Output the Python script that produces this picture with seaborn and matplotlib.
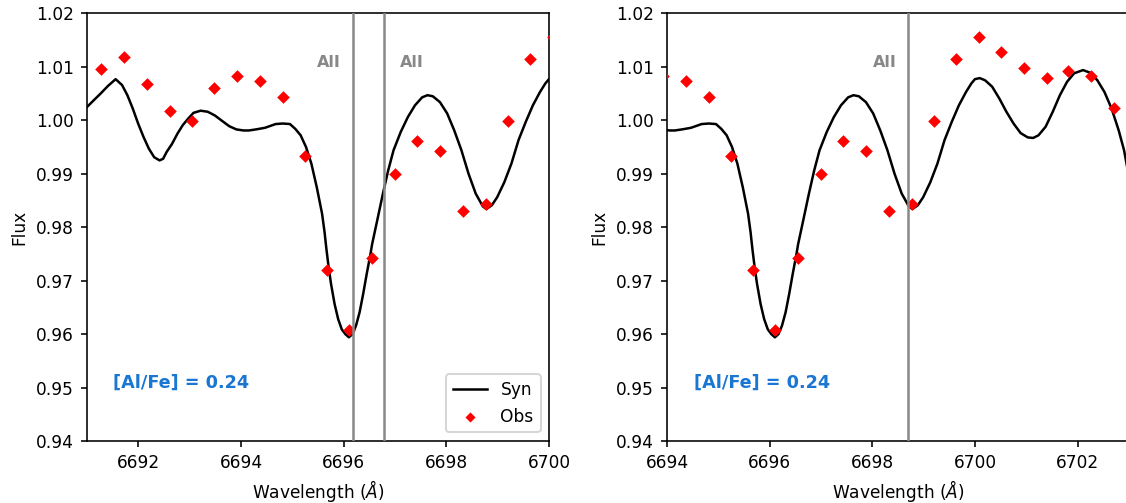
import matplotlib
matplotlib.use("Agg")
import matplotlib.pyplot as plt
import seaborn as sns
import pandas as pd

# Synthetic spectrum
syn_wave = [6691.000, 6691.125, 6691.264, 6691.404, 6691.557, 6691.682, 6691.786, 6691.891, 6691.995, 6692.100,
            6692.204, 6692.308, 6692.413, 6692.482, 6692.552, 6692.656, 6692.761, 6692.865, 6692.969, 6693.074,
            6693.213, 6693.352, 6693.491, 6693.630, 6693.770, 6693.909, 6694.048, 6694.152, 6694.292, 6694.466,
            6694.674, 6694.813, 6694.953, 6695.057, 6695.161, 6695.266, 6695.370, 6695.475, 6695.579, 6695.628,
            6695.662, 6695.704, 6695.753, 6695.823, 6695.892, 6695.962, 6696.031, 6696.101, 6696.171, 6696.240,
            6696.310, 6696.379, 6696.449, 6696.518, 6696.553, 6696.658, 6696.762, 6696.866, 6696.971, 6697.110,
            6697.249, 6697.388, 6697.528, 6697.632, 6697.736, 6697.875, 6698.015, 6698.154, 6698.293, 6698.432,
            6698.571, 6698.710, 6698.780, 6698.885, 6698.989, 6699.128, 6699.267, 6699.406, 6699.546, 6699.685,
            6699.824, 6699.928, 6699.998, 6700.090, 6700.194, 6700.333, 6700.472, 6700.611, 6700.750, 6700.889,
            6701.028, 6701.132, 6701.236, 6701.375, 6701.514, 6701.653, 6701.792, 6701.931, 6702.104, 6702.243,
            6702.382, 6702.521, 6702.660, 6702.799, 6702.903, 6702.993]
syn_flux = [1.0025, 1.0037, 1.0050, 1.0064, 1.0077, 1.0066, 1.0047, 1.0022, 0.9994, 0.9969,
            0.9947, 0.9931, 0.9925, 0.9928, 0.9941, 0.9956, 0.9975, 0.9991, 1.0003, 1.0014,
            1.0018, 1.0016, 1.0009, 0.9999, 0.9989, 0.9983, 0.9981, 0.9981, 0.9983, 0.9986,
            0.9993, 0.9994, 0.9993, 0.9984, 0.9972, 0.9950, 0.9919, 0.9875, 0.9825, 0.9790,
            0.9760, 0.9727, 0.9694, 0.9656, 0.9628, 0.9609, 0.9600, 0.9594, 0.9600, 0.9616,
            0.9641, 0.9675, 0.9713, 0.9748, 0.9768, 0.9815, 0.9862, 0.9906, 0.9944, 0.9978,
            1.0006, 1.0028, 1.0043, 1.0047, 1.0045, 1.0034, 1.0013, 0.9981, 0.9944, 0.9900,
            0.9863, 0.9839, 0.9834, 0.9841, 0.9856, 0.9884, 0.9919, 0.9963, 0.9997, 1.0028,
            1.0053, 1.0069, 1.0077, 1.0079, 1.0075, 1.0063, 1.0041, 1.0016, 0.9994, 0.9976,
            0.9968, 0.9967, 0.9972, 0.9988, 1.0016, 1.0047, 1.0072, 1.0088, 1.0094, 1.0089,
            1.0075, 1.0053, 1.0022, 0.9981, 0.9944, 0.9897]

# Observed spectrum
obs_wave = [6691.27, 6691.72, 6692.17, 6692.62, 6693.05, 6693.48, 6693.93, 6694.37, 6694.81, 6695.24,
            6695.68, 6696.11, 6696.56, 6697.00, 6697.43, 6697.88, 6698.32, 6698.77, 6699.20, 6699.62,
            6700.07, 6700.50, 6700.95, 6701.40, 6701.82, 6702.25, 6702.70]
obs_flux = [1.0096, 1.0118, 1.0068, 1.0018, 0.9999, 1.0061, 1.0083, 1.0074, 1.0044, 0.9933,
            0.9719, 0.9608, 0.9743, 0.9899, 0.9961, 0.9942, 0.9831, 0.9844, 0.9999, 1.0114,
            1.0156, 1.0127, 1.0098, 1.0080, 1.0092, 1.0083, 1.0023]

panel_xlim = [(6691, 6700), (6694, 6703)]
panel_xticks = [[6692, 6694, 6696, 6698, 6700], [6694, 6696, 6698, 6700, 6702]]
yticks = [0.94, 0.95, 0.96, 0.97, 0.98, 0.99, 1.00, 1.01, 1.02]
panel_lines = [[6696.18, 6696.78], [6698.69]]
panel_line_labels = [[6695.72, 6697.32], [6698.25]]
label_text = "AlI"
abund_text = "[Al/Fe] = 0.24"
abund_x = [6691.5, 6694.53]

syn_df = pd.DataFrame({"wave": syn_wave, "flux": syn_flux})
obs_df = pd.DataFrame({"wave": obs_wave, "flux": obs_flux})

FS = 8.5
fig = plt.figure(figsize=(1126 / 144, 503 / 144), dpi=144)
axes = [fig.add_axes([0.0773, 0.1233, 0.4103, 0.850]),
        fig.add_axes([0.5924, 0.1233, 0.4103, 0.850])]

for i, ax in enumerate(axes):
    sns.lineplot(data=syn_df, x="wave", y="flux", ax=ax, color="black", lw=1.25,
                 label="Syn", sort=False, zorder=2)
    sns.scatterplot(data=obs_df, x="wave", y="flux", ax=ax, color="red", marker="D",
                    s=20, linewidth=0, label="Obs", zorder=3)
    for xl in panel_lines[i]:
        ax.axvline(xl, color="#888888", lw=1.25, zorder=4)
    for xt in panel_line_labels[i]:
        ax.text(xt, 1.0109, label_text, color="#888888", fontsize=8, fontweight="bold",
                ha="center", va="center")
    ax.text(abund_x[i], 0.9509, abund_text, color="#1976D2", fontsize=8.8,
            fontweight="bold", ha="left", va="center")
    ax.set_xlim(*panel_xlim[i])
    ax.set_ylim(0.94, 1.02)
    ax.set_xticks(panel_xticks[i])
    ax.set_yticks(yticks)
    ax.set_yticklabels([f"{v:.2f}" for v in yticks])
    ax.set_xlabel(r"Wavelength ($\AA$)", fontsize=FS, labelpad=3)
    ax.set_ylabel("Flux", fontsize=FS)
    ax.tick_params(labelsize=FS, length=3)
    for sp in ax.spines.values():
        sp.set_linewidth(0.8)
    if i == 0:
        ax.legend(loc="lower right", fontsize=FS, markerscale=0.8)
    else:
        ax.get_legend().remove()

fig.savefig("out.png", dpi=144)
